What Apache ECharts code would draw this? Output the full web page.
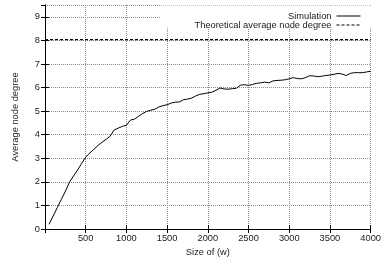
<!DOCTYPE html>
<html>
<head>
<meta charset="utf-8">
<script src="https://cdn.jsdelivr.net/npm/echarts@6/dist/echarts.min.js"></script>
<style>
html, body { margin: 0; padding: 0; background: #fff; }
#main { width: 384px; height: 262px; }
</style>
</head>
<body>
<div id="main"></div>
<script>
// window size w and the simulated average node degree
var sizes = [50, 100, 150, 200, 250, 300, 350, 400, 450, 500,
    550, 600, 650, 700, 750, 800, 850, 900, 950, 1000,
    1050, 1100, 1150, 1200, 1250, 1300, 1350, 1400, 1450, 1500,
    1550, 1600, 1650, 1700, 1750, 1800, 1850, 1900, 1950, 2000,
    2050, 2100, 2150, 2200, 2250, 2300, 2350, 2400, 2450, 2500,
    2550, 2600, 2650, 2700, 2750, 2800, 2850, 2900, 2950, 3000,
    3050, 3100, 3150, 3200, 3250, 3300, 3350, 3400, 3450, 3500,
    3550, 3600, 3650, 3700, 3750, 3800, 3850, 3900, 3950, 4000];
var simulation = [0.2, 0.55, 0.9, 1.25, 1.6, 1.98, 2.25, 2.5, 2.78, 3.05,
    3.22, 3.38, 3.54, 3.68, 3.8, 3.94, 4.2, 4.28, 4.35, 4.4,
    4.62, 4.66, 4.78, 4.9, 4.99, 5.04, 5.08, 5.18, 5.23, 5.27,
    5.34, 5.38, 5.39, 5.48, 5.51, 5.55, 5.64, 5.71, 5.74, 5.77,
    5.8, 5.88, 5.98, 5.94, 5.93, 5.95, 5.97, 6.1, 6.12, 6.09,
    6.13, 6.18, 6.2, 6.23, 6.2, 6.28, 6.3, 6.31, 6.33, 6.37,
    6.42, 6.38, 6.37, 6.42, 6.5, 6.49, 6.46, 6.48, 6.51, 6.53,
    6.56, 6.6, 6.57, 6.51, 6.6, 6.63, 6.63, 6.63, 6.66, 6.69];
var theorySizes = [0, 4000];
var theoretical = [8.03, 8.03];

function pairs(xs, ys) {
    var out = [];
    for (var i = 0; i < xs.length; i++) {
        out.push([xs[i], ys[i]]);
    }
    return out;
}

var font = 'Liberation Sans';
var fs = 9.3;
var chart = echarts.init(document.getElementById('main'), null, {renderer: 'canvas'});

var gridLine = {show: true, lineStyle: {color: '#8a8a8a', type: 'dotted', width: 1}};
var blackLine = {show: true, lineStyle: {color: '#000', width: 1}};

var option = {
    animation: false,
    textStyle: {fontFamily: font},
    grid: {left: 45, right: 12, top: 5, bottom: 31},
    legend: {
        orient: 'vertical',
        align: 'right',
        right: 18,
        top: 6,
        itemWidth: 24,
        itemHeight: 8,
        itemGap: -1,
        z: 10,
        selectedMode: false,
        itemStyle: {opacity: 0},
        lineStyle: {width: 1},
        textStyle: {fontFamily: font, fontSize: fs, color: '#222', lineHeight: 10},
        data: ['Simulation', 'Theoretical average node degree']
    },
    graphic: [{
        type: 'rect',
        z: 5,
        shape: {x: 161, y: 5.5, width: 210, height: 22},
        style: {fill: '#fff'}
    }],
    xAxis: [{
        type: 'value',
        min: 0,
        max: 4000,
        interval: 500,
        name: 'Size of (w)',
        nameLocation: 'middle',
        nameGap: 19,
        nameTextStyle: {fontFamily: font, fontSize: fs, color: '#222'},
        axisLine: blackLine,
        axisTick: {show: true, inside: true, length: 4, lineStyle: {color: '#000'}},
        axisLabel: {
            fontFamily: font, fontSize: fs, color: '#222', margin: 5,
            formatter: function (v) { return v === 0 ? '' : v; }
        },
        splitLine: gridLine
    }, {
        type: 'value',
        position: 'top',
        min: 0,
        max: 4000,
        interval: 500,
        z: 6,
        axisLine: blackLine,
        axisTick: {show: true, inside: true, length: 4, lineStyle: {color: '#000'}},
        axisLabel: {show: false},
        splitLine: {show: false}
    }],
    yAxis: [{
        type: 'value',
        min: 0,
        max: 9.5,
        interval: 1,
        name: 'Average node degree',
        nameLocation: 'middle',
        nameGap: 25,
        nameTextStyle: {fontFamily: font, fontSize: fs, color: '#222'},
        axisLine: blackLine,
        axisTick: {show: true, inside: true, length: 4, lineStyle: {color: '#000'}},
        axisLabel: {
            fontFamily: font, fontSize: fs, color: '#222', margin: 5, showMaxLabel: false,
            formatter: function (v) { return v % 1 === 0 ? v : ''; }
        },
        splitLine: gridLine
    }, {
        type: 'value',
        position: 'right',
        min: 0,
        max: 9.5,
        interval: 1,
        z: 6,
        axisLine: blackLine,
        axisTick: {show: true, inside: true, length: 4, lineStyle: {color: '#000'}},
        axisLabel: {show: false},
        splitLine: {show: false}
    }],
    series: [{
        name: 'Simulation',
        type: 'line',
        showSymbol: false,
        symbol: 'none',
        z: 7,
        lineStyle: {color: '#000', width: 1},
        itemStyle: {color: '#000'},
        data: pairs(sizes, simulation)
    }, {
        name: 'Theoretical average node degree',
        type: 'line',
        showSymbol: false,
        symbol: 'none',
        z: 7,
        lineStyle: {color: '#000', width: 1.2, type: [3, 2]},
        itemStyle: {color: '#000'},
        data: pairs(theorySizes, theoretical)
    }]
};

chart.setOption(option);
</script>
</body>
</html>
